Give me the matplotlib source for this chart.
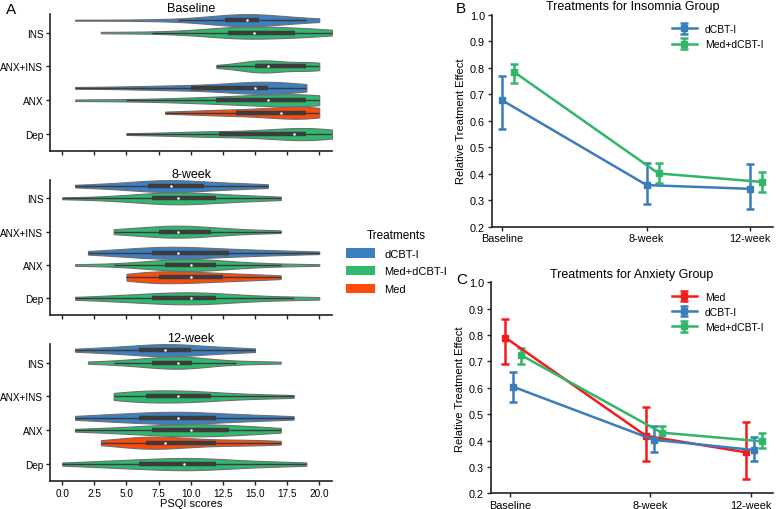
import numpy as np
import matplotlib
matplotlib.use('Agg')
import matplotlib.pyplot as plt
from matplotlib.patches import Patch

plt.rcParams['font.family'] = ['Liberation Sans', 'DejaVu Sans']

# ── Panel A data: PSQI scores per group / treatment at each visit ─────────────
groups = ['INS', 'ANX+INS', 'ANX', 'Dep']
treatments = ['dCBT-I', 'Med+dCBT-I', 'Med']
visits = ['Baseline', '8-week', '12-week']

base_ins_dcbt = [1, 6, 9, 11, 12, 12.7, 13, 13, 14, 14, 14.4, 14.5, 15, 15, 15, 15.3, 16, 17, 18, 19, 20]
base_ins_meddcbt = [3, 7, 10, 11, 12, 12.9, 13, 14, 14, 14.5, 14.9, 15, 15.5, 16, 17, 18.1, 18.5, 19, 19.5, 20, 21]
base_anxins_meddcbt = [12, 13, 14, 14.5, 15, 15, 15, 15.5, 16, 16, 16, 16.5, 17, 17.5, 18, 19, 19, 19.5, 20, 20, 20]
base_anx_dcbt = [1, 4, 7, 8, 9, 10, 12, 13, 14, 14.5, 15, 15, 15.5, 16, 16, 16, 17, 17, 18, 18, 19]
base_anx_meddcbt = [1, 5, 8, 10, 11, 12, 13, 14, 15, 15.5, 16, 16.5, 17, 18, 18.5, 19, 19, 19.5, 20, 20, 20]
base_anx_med = [8, 10, 11.5, 12, 13, 13.5, 14.5, 15.5, 16, 16.5, 17, 17.5, 18, 18, 18.5, 19, 19, 19.5, 20, 20, 20]
base_dep_meddcbt = [5, 8, 10, 11, 12, 12.2, 14, 15, 16, 17, 18, 18, 18.5, 18.5, 19, 19, 19.5, 20, 20, 20.5, 21]

w8_ins_dcbt = [1, 3, 4, 5, 6, 6.7, 7, 7.5, 8, 8, 8.5, 9, 9.5, 10, 10.5, 11, 12, 13, 14, 15, 16]
w8_ins_meddcbt = [0, 3, 4.5, 5.5, 6.5, 7, 7.5, 8, 8.5, 9, 9, 9.5, 10, 10.5, 11, 12, 12.5, 13.5, 14.5, 16, 17]
w8_anxins_meddcbt = [4, 4.5, 5, 6, 7, 7.5, 8, 8, 8.5, 9, 9, 9.5, 10, 10.5, 11, 11.6, 12, 13, 14, 15.5, 17]
w8_anx_dcbt = [2, 3.5, 5, 6, 6.5, 7, 7.5, 8, 8.5, 9, 9, 10, 10.5, 11, 12, 13, 14, 15, 16, 18, 20]
w8_anx_meddcbt = [1, 4, 6, 7, 7.5, 8, 8.5, 9, 9.5, 10, 10, 10, 10.5, 11, 11.5, 12, 13, 14, 15, 17, 20]
w8_anx_med = [5, 5.5, 6, 6.5, 7, 7.5, 8, 8, 8.5, 9, 10, 10, 10.5, 11, 12, 12.5, 13, 14, 15, 16, 17]
w8_dep_meddcbt = [1, 3, 4.5, 5.5, 6.5, 7, 7.5, 8, 9, 9.5, 10, 10.5, 11, 11, 11.5, 12, 13, 14.5, 16, 18, 20]

w12_ins_dcbt = [1, 2.5, 3.5, 4.5, 5.5, 6, 6.5, 7, 7.5, 8, 8, 8.5, 9, 9.5, 10, 10, 11, 12, 13, 14, 15]
w12_ins_meddcbt = [2, 4, 5, 6, 6.5, 7, 7.5, 8, 8.5, 9, 9, 9, 9.5, 10, 10, 10.1, 11, 12, 13.5, 15, 17]
w12_anxins_meddcbt = [4, 4.5, 5, 5.5, 6, 6.5, 7, 7.5, 8, 8.5, 9, 9.5, 10, 10.5, 11, 11.6, 12.5, 13.5, 15, 16.5, 18]
w12_anx_dcbt = [1, 2.5, 3.5, 4.5, 5.5, 6, 7, 7.5, 8, 8.5, 9, 9.5, 10, 10.5, 11, 12, 13, 14, 15, 16.5, 18]
w12_anx_meddcbt = [1, 3, 4.5, 5.5, 6.5, 7, 8, 8.5, 9, 9.5, 10, 10.5, 11, 11.5, 12, 13, 13.5, 14, 15, 16, 17]
w12_anx_med = [3, 4, 5, 5.5, 6, 6.5, 7, 7, 7.5, 7.5, 8, 8.5, 9, 10, 11, 12, 13, 14, 15, 16, 17]
w12_dep_meddcbt = [0, 2, 3.5, 4.5, 5.5, 6, 7, 8, 8.5, 9, 9.5, 10, 10.5, 11, 11.5, 12, 13, 14.5, 16, 17.5, 19]

violin_data = {
    'Baseline': {('INS', 'dCBT-I'): base_ins_dcbt, ('INS', 'Med+dCBT-I'): base_ins_meddcbt,
                 ('ANX+INS', 'Med+dCBT-I'): base_anxins_meddcbt,
                 ('ANX', 'dCBT-I'): base_anx_dcbt, ('ANX', 'Med+dCBT-I'): base_anx_meddcbt,
                 ('ANX', 'Med'): base_anx_med, ('Dep', 'Med+dCBT-I'): base_dep_meddcbt},
    '8-week': {('INS', 'dCBT-I'): w8_ins_dcbt, ('INS', 'Med+dCBT-I'): w8_ins_meddcbt,
               ('ANX+INS', 'Med+dCBT-I'): w8_anxins_meddcbt,
               ('ANX', 'dCBT-I'): w8_anx_dcbt, ('ANX', 'Med+dCBT-I'): w8_anx_meddcbt,
               ('ANX', 'Med'): w8_anx_med, ('Dep', 'Med+dCBT-I'): w8_dep_meddcbt},
    '12-week': {('INS', 'dCBT-I'): w12_ins_dcbt, ('INS', 'Med+dCBT-I'): w12_ins_meddcbt,
                ('ANX+INS', 'Med+dCBT-I'): w12_anxins_meddcbt,
                ('ANX', 'dCBT-I'): w12_anx_dcbt, ('ANX', 'Med+dCBT-I'): w12_anx_meddcbt,
                ('ANX', 'Med'): w12_anx_med, ('Dep', 'Med+dCBT-I'): w12_dep_meddcbt},
}

# ── Panels B / C data: relative treatment effect (mean, CI low, CI high) ─────
time_labels = ['Baseline', '8-week', '12-week']

ins_dcbt_mean = [0.678, 0.357, 0.343]
ins_dcbt_lo = [0.569, 0.286, 0.265]
ins_dcbt_hi = [0.769, 0.439, 0.438]
ins_meddcbt_mean = [0.785, 0.401, 0.369]
ins_meddcbt_lo = [0.742, 0.364, 0.332]
ins_meddcbt_hi = [0.813, 0.439, 0.408]

anx_med_mean = [0.790, 0.418, 0.355]
anx_med_lo = [0.690, 0.322, 0.254]
anx_med_hi = [0.862, 0.528, 0.472]
anx_dcbt_mean = [0.604, 0.403, 0.364]
anx_dcbt_lo = [0.545, 0.355, 0.321]
anx_dcbt_hi = [0.661, 0.455, 0.415]
anx_meddcbt_mean = [0.724, 0.430, 0.397]
anx_meddcbt_lo = [0.690, 0.403, 0.370]
anx_meddcbt_hi = [0.752, 0.455, 0.427]

# ── style ────────────────────────────────────────────────────────────────────
violin_colors = {'dCBT-I': '#3d7fc0', 'Med+dCBT-I': '#2fb86e', 'Med': '#ff4a0a'}
line_colors = {'dCBT-I': '#3a7dbc', 'Med+dCBT-I': '#31b56a', 'Med': '#f51a1a'}
time_pos = np.array([0.0, 1.4, 2.4])
hue_offset = {'dCBT-I': -0.367, 'Med+dCBT-I': 0.0, 'Med': 0.367}


def style_axes(ax, labelsize=7.2):
    for side in ['top', 'right']:
        ax.spines[side].set_visible(False)
    for side in ['left', 'bottom']:
        ax.spines[side].set_linewidth(1.2)
        ax.spines[side].set_color('#222222')
    ax.tick_params(length=2.8, width=1, labelsize=labelsize, color='#222222', pad=2)


def draw_violins(ax, data):
    for (grp, trt), vals in data.items():
        vals = np.asarray(vals, dtype=float)
        y = groups.index(grp) + hue_offset[trt]
        parts = ax.violinplot([vals], positions=[y], widths=0.36, orientation='horizontal',
                              showextrema=False, points=200)
        for body in parts['bodies']:
            body.set_facecolor(violin_colors[trt])
            body.set_edgecolor('#6e6e6e')
            body.set_linewidth(0.8)
            body.set_alpha(1)
        q1, med, q3 = np.percentile(vals, [25, 50, 75])
        lim = 1.5 * (q3 - q1)
        lo = vals[vals >= q1 - lim].min()
        hi = vals[vals <= q3 + lim].max()
        ax.plot([lo, hi], [y, y], color='#3c3c3c', lw=1, solid_capstyle='butt', zorder=3)
        ax.plot([q1, q3], [y, y], color='#3c3c3c', lw=3.2, solid_capstyle='butt', zorder=3)
        ax.plot(med, y, 'o', color='white', ms=1.8, mew=0, zorder=4)


fig = plt.figure(figsize=(7.77, 5.10), dpi=100)

ax_rects = [[0.0644, 0.702, 0.363, 0.2686],
            [0.0644, 0.3804, 0.363, 0.2647],
            [0.0644, 0.0549, 0.363, 0.2686]]
violin_axes = []
for i, visit in enumerate(visits):
    ax = fig.add_axes(ax_rects[i], sharex=violin_axes[0] if violin_axes else None)
    draw_violins(ax, violin_data[visit])
    ax.set_yticks(range(len(groups)))
    ax.set_yticklabels(groups)
    ax.set_ylim(3.5, -0.55)
    ax.set_title(visit, fontsize=9, pad=2)
    style_axes(ax)
    violin_axes.append(ax)

violin_axes[0].set_xlim(-0.95, 21.0)
violin_axes[0].set_xticks(np.arange(0, 20.1, 2.5))
for ax in violin_axes[:2]:
    ax.tick_params(labelbottom=False)
violin_axes[2].xaxis.set_major_formatter(matplotlib.ticker.FormatStrFormatter('%.1f'))
violin_axes[2].set_xlabel('PSQI scores', fontsize=8, labelpad=0.5)

handles = [Patch(facecolor=violin_colors[t], edgecolor='none') for t in treatments]
fig.legend(handles, treatments, title='Treatments', loc='center left',
           bbox_to_anchor=(0.44, 0.485), frameon=False, fontsize=8, title_fontsize=8.5,
           handlelength=2.6, handleheight=0.9, labelspacing=0.65, borderaxespad=0)

fig.text(0.008, 0.972, 'A', fontsize=11)
fig.text(0.587, 0.974, 'B', fontsize=11)
fig.text(0.587, 0.444, 'C', fontsize=11)


def draw_effects(ax, series, title, xlim):
    for name, mean, lo, hi, off in series:
        mean = np.asarray(mean)
        err = [mean - np.asarray(lo), np.asarray(hi) - mean]
        ax.errorbar(time_pos + off, mean, yerr=err, color=line_colors[name], lw=1.8,
                    elinewidth=1.8, capsize=3, capthick=1.8, marker='s', ms=5, label=name)
    ax.set_ylim(0.2, 1.0)
    ax.set_yticks(np.arange(0.2, 1.01, 0.1))
    ax.set_xlim(*xlim)
    ax.set_xticks(time_pos)
    ax.set_xticklabels(time_labels)
    ax.set_ylabel('Relative Treatment Effect', fontsize=8, labelpad=3)
    ax.set_title(title, fontsize=9, pad=4)
    style_axes(ax, labelsize=7.8)
    ax.legend(loc='upper right', frameon=False, fontsize=7.5, handlelength=2.4,
              bbox_to_anchor=(1.0, 1.0))


ax_b = fig.add_axes([0.6328, 0.5535, 0.362, 0.4157])
draw_effects(ax_b, [('dCBT-I', ins_dcbt_mean, ins_dcbt_lo, ins_dcbt_hi, 0.0),
                    ('Med+dCBT-I', ins_meddcbt_mean, ins_meddcbt_lo, ins_meddcbt_hi, 0.115)],
             'Treatments for Insomnia Group', (-0.097, 2.62))

ax_c = fig.add_axes([0.6315, 0.0308, 0.363, 0.4137])
draw_effects(ax_c, [('Med', anx_med_mean, anx_med_lo, anx_med_hi, -0.043),
                    ('dCBT-I', anx_dcbt_mean, anx_dcbt_lo, anx_dcbt_hi, 0.033),
                    ('Med+dCBT-I', anx_meddcbt_mean, anx_meddcbt_lo, anx_meddcbt_hi, 0.112)],
             'Treatments for Anxiety Group', (-0.19, 2.62))

fig.savefig('out.png', dpi=100)
